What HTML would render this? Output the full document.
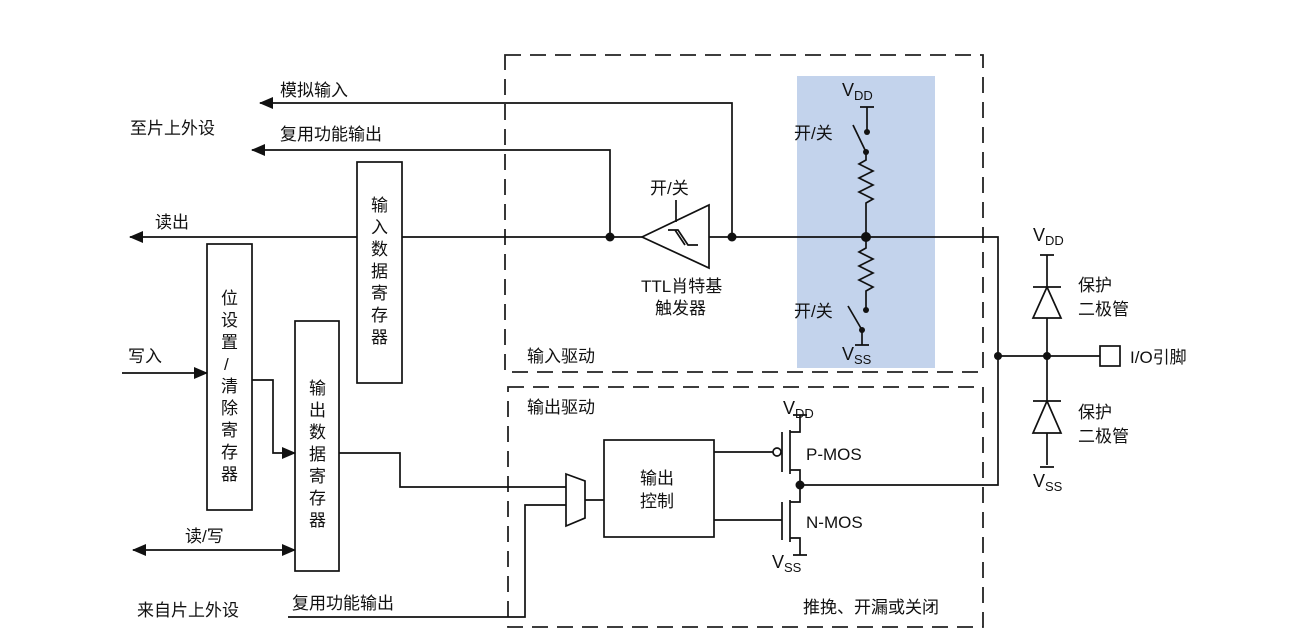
<!DOCTYPE html>
<html><head><meta charset="utf-8"><style>
html,body{margin:0;padding:0;background:#fff}
svg{display:block}
text{font-family:"Liberation Sans","Noto Sans CJK SC",sans-serif;font-size:17px;fill:#111}
.v{font-size:18px}
.s{font-size:13px}
</style></head><body>
<svg width="1309" height="640" viewBox="0 0 1309 640" xmlns="http://www.w3.org/2000/svg">
<defs>
<marker id="a" markerWidth="14" markerHeight="12" refX="13" refY="6" orient="auto" markerUnits="userSpaceOnUse"><path d="M0,0 L14,6 L0,12z" fill="#111"/></marker>
<marker id="b" markerWidth="14" markerHeight="12" refX="1" refY="6" orient="auto" markerUnits="userSpaceOnUse"><path d="M14,0 L0,6 L14,12z" fill="#111"/></marker>
</defs>
<rect x="797" y="76" width="138" height="292" fill="#c3d3ec"/>
<g fill="none" stroke="#222" stroke-width="1.8" stroke-dasharray="16,9">
<rect x="505" y="55" width="478" height="317"/>
<rect x="508" y="387" width="475" height="240"/>
</g>
<g fill="none" stroke="#111" stroke-width="1.7">
<path d="M130,237 L998,237 L998,485 L800,485" marker-start="url(#b)"/>
<path d="M998,356 L1100,356"/>
<path d="M260,103 L732,103 L732,237" marker-start="url(#b)"/>
<path d="M252,150 L610,150 L610,237" marker-start="url(#b)"/>
<path d="M642,237 L709,205 L709,268 Z" fill="#fff"/>
<path d="M676,200 L676,222"/>
<path d="M668,230 L678,230 L688,245 L698,245 M675,230 L685,245"/>
<path d="M860,107 L874,107 M867,107 L867,132 M853,125 L866,152 M866,152 L866,160 L859,164 L873,171 L859,178 L873,185 L859,192 L873,199 L866,203 L866,237"/>
<path d="M866,237 L866,248 L859,252 L873,259 L859,266 L873,273 L859,280 L873,287 L866,291 L866,310 M848,306 L862,330 M862,330 L862,345 M855,345 L869,345"/>
<path d="M1040,255 L1054,255 M1047,255 L1047,465 M1040,467 L1054,467"/>
<path d="M1033,287 L1061,287 M1047,287 L1033,318 L1061,318 Z" fill="#fff"/>
<path d="M1033,401 L1061,401 M1047,401 L1033,433 L1061,433 Z" fill="#fff"/>
<rect x="1100" y="346" width="20" height="20" fill="#fff"/>
<rect x="357" y="162" width="45" height="221" fill="#fff"/>
<rect x="207" y="244" width="45" height="266" fill="#fff"/>
<rect x="295" y="321" width="44" height="250" fill="#fff"/>
<path d="M122,373 L207,373" marker-end="url(#a)"/>
<path d="M252,380 L273,380 L273,453 L295,453" marker-end="url(#a)"/>
<path d="M133,550 L295,550" marker-start="url(#b)" marker-end="url(#a)"/>
<path d="M339,453 L400,453 L400,487 L566,487"/>
<path d="M288,617 L525,617 L525,505 L566,505"/>
<path d="M566,474 L585,481 L585,518 L566,526 Z" fill="#fff"/>
<path d="M585,500 L604,500"/>
<rect x="604" y="440" width="110" height="97" fill="#fff"/>
<path d="M714,452 L773,452"/>
<circle cx="777" cy="452" r="4" fill="#fff"/>
<path d="M782,432 L782,472 M790,430 L790,474 M790,432 L800,432 L800,415 M793,415 L807,415 M790,470 L800,470 L800,502 L790,502 M714,520 L782,520 M782,502 L782,540 M790,500 L790,542 M790,538 L800,538 L800,555 M793,555 L807,555"/>
</g>
<g fill="#111">
<circle cx="610" cy="237" r="4.5"/><circle cx="732" cy="237" r="4.5"/><circle cx="866" cy="237" r="5"/>
<circle cx="867" cy="132" r="3"/><circle cx="866" cy="152" r="3"/><circle cx="866" cy="310" r="3"/><circle cx="862" cy="330" r="3"/>
<circle cx="998" cy="356" r="4"/><circle cx="1047" cy="356" r="4"/><circle cx="800" cy="485" r="4.5"/>
</g>
<text x="280" y="96">模拟输入</text>
<text x="130" y="134">至片上外设</text>
<text x="280" y="140">复用功能输出</text>
<text x="155" y="228">读出</text>
<text x="128" y="362">写入</text>
<text x="185" y="542">读/写</text>
<text x="137" y="616">来自片上外设</text>
<text x="292" y="609">复用功能输出</text>
<text x="371" y="211">输</text><text x="371" y="233">入</text><text x="371" y="255">数</text><text x="371" y="277">据</text><text x="371" y="299">寄</text><text x="371" y="321">存</text><text x="371" y="343">器</text>
<text x="221" y="304">位</text><text x="221" y="326">设</text><text x="221" y="348">置</text><text x="224" y="370">/</text><text x="221" y="392">清</text><text x="221" y="414">除</text><text x="221" y="436">寄</text><text x="221" y="458">存</text><text x="221" y="480">器</text>
<text x="309" y="394">输</text><text x="309" y="416">出</text><text x="309" y="438">数</text><text x="309" y="460">据</text><text x="309" y="482">寄</text><text x="309" y="504">存</text><text x="309" y="526">器</text>
<text x="650" y="194">开/关</text>
<text x="641" y="292">TTL肖特基</text>
<text x="655" y="314">触发器</text>
<text x="794" y="139">开/关</text>
<text x="794" y="317">开/关</text>
<text class="v" x="842" y="96">V<tspan class="s" dy="4">DD</tspan></text>
<text class="v" x="842" y="360">V<tspan class="s" dy="4">SS</tspan></text>
<text x="527" y="362">输入驱动</text>
<text x="527" y="413">输出驱动</text>
<text x="640" y="484">输出</text>
<text x="640" y="507">控制</text>
<text class="v" x="783" y="414">V<tspan class="s" dy="4">DD</tspan></text>
<text x="806" y="460">P-MOS</text>
<text x="806" y="528">N-MOS</text>
<text class="v" x="772" y="568">V<tspan class="s" dy="4">SS</tspan></text>
<text x="803" y="613">推挽、开漏或关闭</text>
<text class="v" x="1033" y="241">V<tspan class="s" dy="4">DD</tspan></text>
<text class="v" x="1033" y="487">V<tspan class="s" dy="4">SS</tspan></text>
<text x="1078" y="291">保护</text><text x="1078" y="315">二极管</text>
<text x="1078" y="418">保护</text><text x="1078" y="442">二极管</text>
<text x="1130" y="363">I/O引脚</text>
</svg>
</body></html>
